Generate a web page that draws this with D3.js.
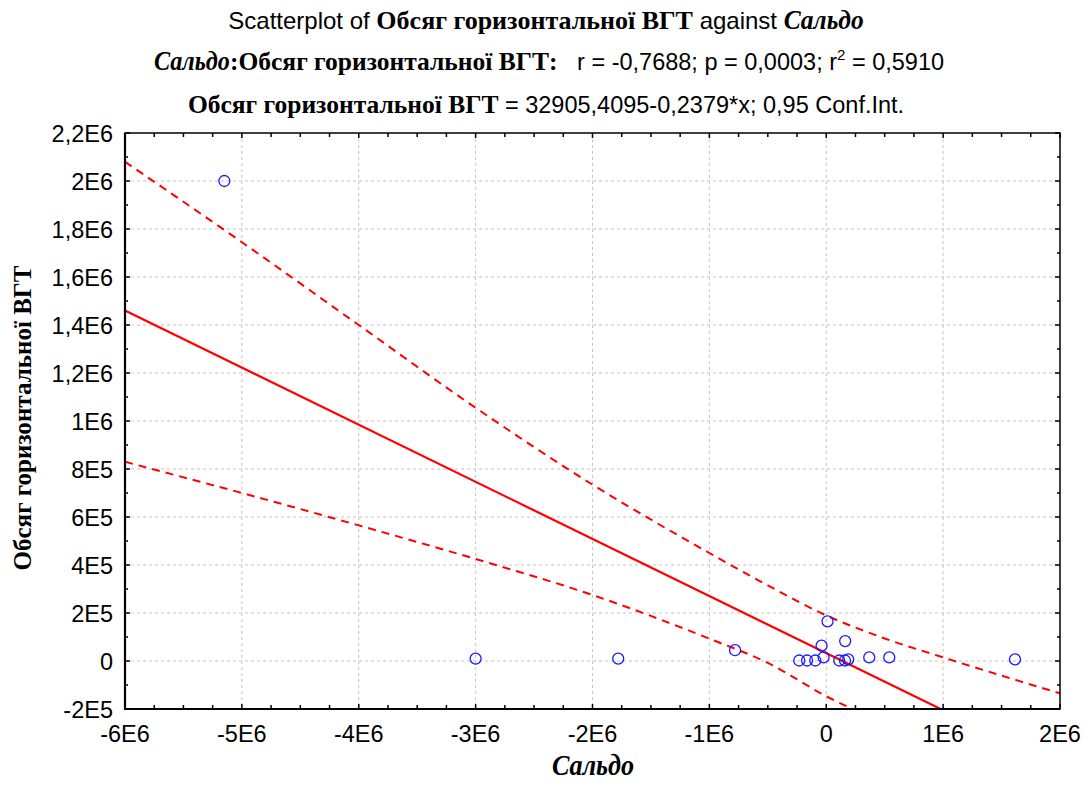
<!DOCTYPE html>
<html>
<head>
<meta charset="utf-8">
<script src="https://cdn.jsdelivr.net/npm/d3@7"></script>
<style>
  body { margin: 0; background: #fff; }
  svg text { white-space: pre; }
  .sans { font-family: "Liberation Sans", Arial, sans-serif; }
  .serifb { font-family: "Liberation Serif", "Times New Roman", serif; font-weight: bold; }
  .serifbi { font-family: "Liberation Serif", "Times New Roman", serif; font-weight: bold; font-style: italic; }
</style>
</head>
<body>
<svg id="chart" width="1090" height="796"></svg>
<script>
// Scatter data (Сальдо, Обсяг горизонтальної ВГТ)
const saldo = [-5150000, -3000000, -1780000, -780000, -231000, -164000, -94000, -23000,
               -40000, 11000, 111000, 160000, 188000, 162000, 368000, 539000, 1615000];
const volume = [2000000, 10000, 10000, 45000, 2000, 2000, 2000, 15000,
                64000, 165000, 2000, 2000, 7000, 83000, 15000, 15000, 7000];

// Regression: y = 32905,4095 - 0,2379*x
const intercept = 32905.4095;
const slope = -0.2379;

// 0.95 confidence band
const bandX     = [-6e6, -5e6, -4e6, -3e6, -2e6, -1e6, -5e5, 0, 5e5, 1e6, 2e6];
const bandUpper = [2.08e6, 1.745e6, 1.40e6, 1.055e6, 7.35e5, 4.5e5, 3.15e5, 1.9e5, 9.4e4, 1.5e4, -1.35e5];
const bandLower = [8.3e5, 7.0e5, 5.65e5, 4.25e5, 2.75e5, 9.3e4, -8e3, -1.47e5, -2.66e5, -4.25e5, -7.5e5];

const xTickValues = [-6e6, -5e6, -4e6, -3e6, -2e6, -1e6, 0, 1e6, 2e6];
const xTickLabels = ["-6E6", "-5E6", "-4E6", "-3E6", "-2E6", "-1E6", "0", "1E6", "2E6"];
const yTickValues = [-2e5, 0, 2e5, 4e5, 6e5, 8e5, 1e6, 1.2e6, 1.4e6, 1.6e6, 1.8e6, 2e6, 2.2e6];
const yTickLabels = ["-2E5", "0", "2E5", "4E5", "6E5", "8E5", "1E6", "1,2E6", "1,4E6", "1,6E6", "1,8E6", "2E6", "2,2E6"];

const varY = "Обсяг горизонтальної ВГТ";
const varX = "Сальдо";

const margin = { left: 125, right: 1060, top: 133, bottom: 709 };

const svg = d3.select("#chart");

const x = d3.scaleLinear().domain([-6e6, 2e6]).range([margin.left, margin.right]);
const y = d3.scaleLinear().domain([-2e5, 2.2e6]).range([margin.bottom, margin.top]);

svg.append("defs").append("clipPath").attr("id", "plotClip")
    .append("rect")
    .attr("x", margin.left).attr("y", margin.top)
    .attr("width", margin.right - margin.left)
    .attr("height", margin.bottom - margin.top);

// Grid lines
const grid = svg.append("g").attr("stroke", "#c4c4c4").attr("stroke-width", 1)
    .attr("stroke-dasharray", "3,3");
grid.selectAll(".gx").data(xTickValues.slice(1, -1)).join("line")
    .attr("x1", d => x(d)).attr("x2", d => x(d))
    .attr("y1", margin.top).attr("y2", margin.bottom);
grid.selectAll(".gy").data(yTickValues.slice(1, -1)).join("line")
    .attr("y1", d => y(d)).attr("y2", d => y(d))
    .attr("x1", margin.left).attr("x2", margin.right);

// Confidence band + regression line
const plot = svg.append("g").attr("clip-path", "url(#plotClip)");
const bandLine = vals => d3.line()
    .x((d, i) => x(bandX[i]))
    .y(d => y(d))
    .curve(d3.curveMonotoneX)(vals);

plot.append("path").attr("d", bandLine(bandUpper))
    .attr("fill", "none").attr("stroke", "#f00").attr("stroke-width", 2)
    .attr("stroke-dasharray", "8,6");
plot.append("path").attr("d", bandLine(bandLower))
    .attr("fill", "none").attr("stroke", "#f00").attr("stroke-width", 2)
    .attr("stroke-dasharray", "8,6");

const regX = x.domain();
plot.append("line")
    .attr("x1", x(regX[0])).attr("y1", y(intercept + slope * regX[0]))
    .attr("x2", x(regX[1])).attr("y2", y(intercept + slope * regX[1]))
    .attr("stroke", "#f00").attr("stroke-width", 2.2);

// Points
svg.append("g").selectAll("circle").data(saldo).join("circle")
    .attr("cx", d => x(d))
    .attr("cy", (d, i) => y(volume[i]))
    .attr("r", 5.5)
    .attr("fill", "none")
    .attr("stroke", "#1a1aff")
    .attr("stroke-width", 1.3);

// Frame
svg.append("rect")
    .attr("x", margin.left).attr("y", margin.top)
    .attr("width", margin.right - margin.left)
    .attr("height", margin.bottom - margin.top)
    .attr("fill", "none").attr("stroke", "#000").attr("stroke-width", 1.5);
svg.append("line").attr("x1", margin.left).attr("x2", margin.left)
    .attr("y1", margin.top).attr("y2", margin.bottom + 1)
    .attr("stroke", "#000").attr("stroke-width", 2.2);
svg.append("line").attr("x1", margin.left - 1).attr("x2", margin.right)
    .attr("y1", margin.bottom).attr("y2", margin.bottom)
    .attr("stroke", "#000").attr("stroke-width", 2.2);

// Inward ticks on all four sides
const xMinor = d3.range(-6e6, 2e6 + 1, 2.5e5);
const yMinor = d3.range(-2e5, 2.2e6 + 1, 1e5);
const ticks = svg.append("g").attr("stroke", "#000").attr("stroke-width", 1.5);
ticks.selectAll(".tb").data(xMinor).join("line")
    .attr("x1", d => x(d)).attr("x2", d => x(d))
    .attr("y1", margin.bottom).attr("y2", d => margin.bottom - (d % 1e6 === 0 ? 5 : 4));
ticks.selectAll(".tt").data(xMinor).join("line")
    .attr("x1", d => x(d)).attr("x2", d => x(d))
    .attr("y1", margin.top).attr("y2", d => margin.top + (d % 1e6 === 0 ? 5 : 4));
ticks.selectAll(".tl").data(yMinor).join("line")
    .attr("y1", d => y(d)).attr("y2", d => y(d))
    .attr("x1", margin.left).attr("x2", d => margin.left + (Math.round(d / 1e5) % 2 === 0 ? 5 : 3));
ticks.selectAll(".tr").data(yMinor).join("line")
    .attr("y1", d => y(d)).attr("y2", d => y(d))
    .attr("x1", margin.right).attr("x2", d => margin.right - (Math.round(d / 1e5) % 2 === 0 ? 5 : 3));

// Tick labels
svg.append("g").selectAll("text").data(xTickValues).join("text")
    .attr("class", "sans")
    .attr("x", d => x(d)).attr("y", 742)
    .attr("text-anchor", "middle")
    .attr("font-size", 23.5)
    .text((d, i) => xTickLabels[i]);
svg.append("g").selectAll("text").data(yTickValues).join("text")
    .attr("class", "sans")
    .attr("x", 113).attr("y", d => y(d) + 8.5)
    .attr("text-anchor", "end")
    .attr("font-size", 23.5)
    .text((d, i) => yTickLabels[i]);

// Centered line built from pieces of mixed fonts; a piece may be squeezed to a width
function titleLine(cy, pieces, cx = 546) {
    const g = svg.append("g");
    const items = pieces.map(p => {
        const t = g.append("text").attr("class", p.cls).attr("font-size", p.size).text(p.text);
        const w = t.node().getComputedTextLength();
        const sx = p.width ? p.width / w : 1;
        return { t, w: w * sx, sx, dy: p.dy || 0 };
    });
    let cur = cx - d3.sum(items, d => d.w) / 2;
    items.forEach(d => {
        d.t.attr("transform", `translate(${cur},${cy + d.dy}) scale(${d.sx},1)`);
        cur += d.w;
    });
}

titleLine(29, [
    { text: "Scatterplot of ", cls: "sans", size: 24 },
    { text: varY, cls: "serifb", size: 26 },
    { text: " against ", cls: "sans", size: 24 },
    { text: varX, cls: "serifbi", size: 28, width: 80 }
]);
titleLine(70, [
    { text: varX, cls: "serifbi", size: 28, width: 76 },
    { text: ":" + varY + ":", cls: "serifb", size: 25.5 },
    { text: "   r = -0,7688; p = 0,0003; r", cls: "sans", size: 23.5 },
    { text: "2", cls: "sans", size: 15, dy: -10 },
    { text: " = 0,5910", cls: "sans", size: 23.5 }
], 549);
titleLine(113, [
    { text: varY, cls: "serifb", size: 25.5 },
    { text: " = 32905,4095-0,2379*x; 0,95 Conf.Int.", cls: "sans", size: 23.5 }
]);

// Axis titles
titleLine(775, [{ text: varX, cls: "serifbi", size: 29, width: 82 }], 593);
svg.append("text").attr("class", "serifb")
    .attr("transform", "translate(31,418) rotate(-90)")
    .attr("text-anchor", "middle")
    .attr("font-size", 25)
    .attr("textLength", 305)
    .attr("lengthAdjust", "spacingAndGlyphs")
    .text(varY);
</script>
</body>
</html>
